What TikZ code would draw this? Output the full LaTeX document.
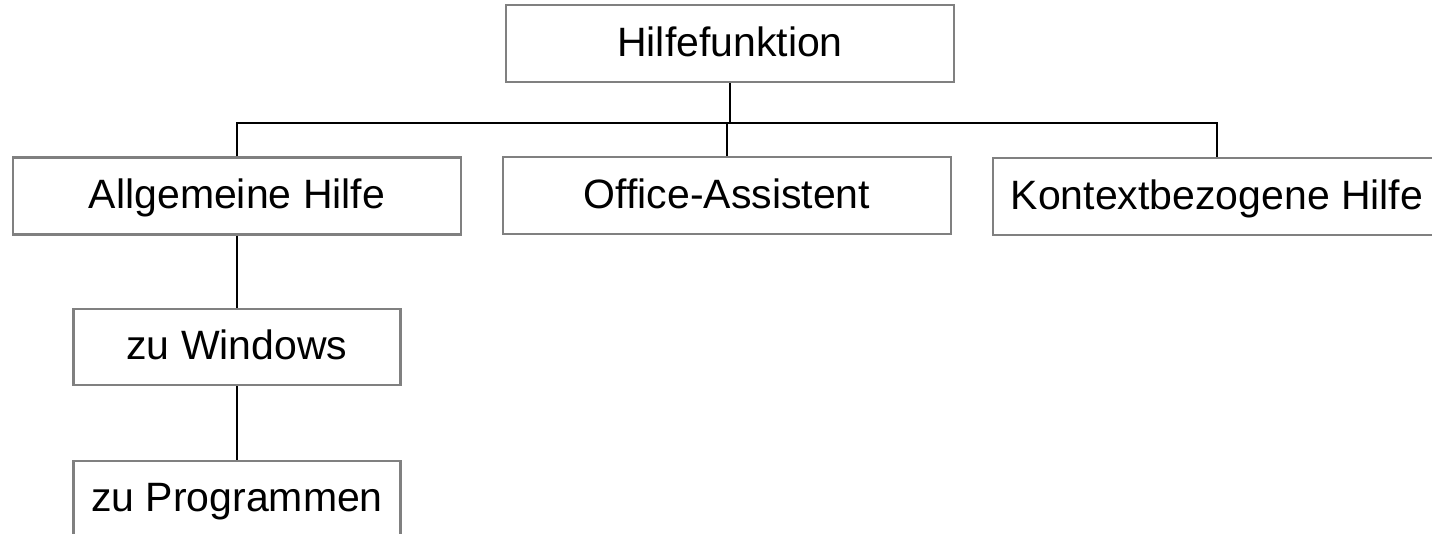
\documentclass[tikz,border=0pt]{standalone}
\usepackage{fontspec}
\setmainfont{Liberation Sans}
\usepackage{xcolor}
\definecolor{hfBoxDraw}{RGB}{128,128,128}
\usetikzlibrary{positioning}

\begin{document}
\begin{tikzpicture}[
    x=1pt, y=-1pt,
    hfbox/.style={draw=hfBoxDraw, line width=2.2pt, fill=white,
      align=center, minimum width=448pt, minimum height=77pt,
      text height=30pt, text depth=5pt,
      inner sep=0pt, font=\fontsize{41}{48}\selectfont},
    subbox/.style={hfbox, minimum width=327pt, minimum height=76pt},
    link/.style={line width=2.5pt, draw=black}
  ]
    \useasboundingbox (0,0) rectangle (1432,533);

    \node[hfbox] (hilfe) at (730,43.5) {Hilfefunktion};
    \node[hfbox] (allgemein) at (237,196) {Allgemeine Hilfe};
    \node[hfbox] (office) at (727,195.5) {Office-Assistent};
    \node[hfbox] (kontext) at (1217,196.5) {Kontextbezogene Hilfe};
    \node[subbox] (windows) at (237,347) {zu Windows};
    \node[subbox] (programme) at (237,499) {zu Programmen};

    \coordinate (bar) at (0,123);

    \draw[link] (hilfe.south) -- (hilfe.south |- bar);
    \draw[link] (allgemein.north) |- (kontext.north |- bar) -- (kontext.north);
    \draw[link] (office.north) -- (office.north |- bar);
    \draw[link] (allgemein.south) -- (windows.north);
    \draw[link] (windows.south) -- (programme.north);
  \end{tikzpicture}
\end{document}
